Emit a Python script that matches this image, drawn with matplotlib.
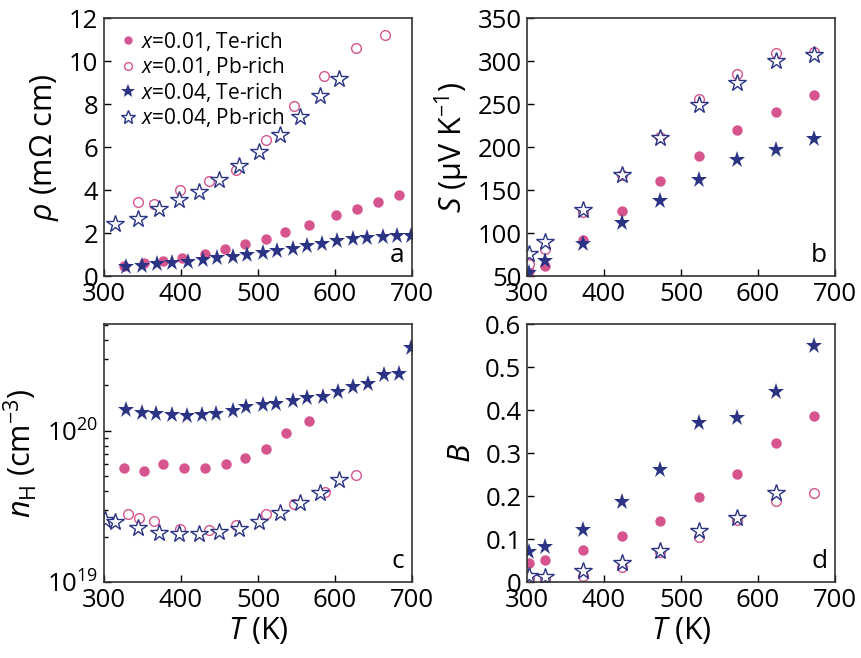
import numpy as np
import matplotlib
matplotlib.use('Agg')
import matplotlib.pyplot as plt
from matplotlib.ticker import LogLocator, NullFormatter

plt.rcParams['font.family'] = ['Open Sans', 'DejaVu Sans']
plt.rcParams['mathtext.fontset'] = 'custom'
plt.rcParams['mathtext.rm'] = 'Open Sans'
plt.rcParams['mathtext.it'] = 'Open Sans:italic'
plt.rcParams['mathtext.default'] = 'regular'

pink = '#d6558f'
navy = '#2b3385'

labels = ['$\\it{x}$=0.01, Te-rich', '$\\it{x}$=0.01, Pb-rich',
          '$\\it{x}$=0.04, Te-rich', '$\\it{x}$=0.04, Pb-rich']

# panel a: resistivity
T_a1 = [326, 352, 377, 402, 431, 457, 483, 510, 535, 566, 602, 628, 656, 683]
rho_a1 = [0.47, 0.59, 0.70, 0.85, 1.01, 1.24, 1.49, 1.74, 2.03, 2.38, 2.83, 3.14, 3.46, 3.77]
T_a2 = [344, 365, 399, 436, 472, 510, 547, 586, 627, 665]
rho_a2 = [3.45, 3.35, 3.99, 4.44, 4.94, 6.34, 7.89, 9.32, 10.6, 11.2]
T_a3 = [328, 350, 369, 389, 409, 428, 447, 467, 486, 506, 525, 545, 564, 583, 603, 623, 642, 662, 680, 699]
rho_a3 = [0.42, 0.48, 0.54, 0.61, 0.67, 0.75, 0.82, 0.89, 0.96, 1.06, 1.16, 1.27, 1.38, 1.49,
          1.61, 1.71, 1.77, 1.80, 1.86, 1.86]
T_a4 = [314, 344, 371, 398, 423, 449, 476, 502, 529, 555, 580, 605]
rho_a4 = [2.44, 2.67, 3.11, 3.54, 3.91, 4.47, 5.14, 5.78, 6.55, 7.42, 8.39, 9.18]

# panels b and d share temperatures
T_bd = [302, 323, 373, 423, 473, 523, 573, 623, 673]
S_1 = [56, 62, 92, 126, 160, 190, 220, 241, 261]
S_2 = [64, 82, 125, 167, 212, 256, 285, 309, 311]
S_3 = [54, 67, 87, 112, 137, 162, 185, 197, 209]
S_4 = [76, 89, 127, 168, 211, 249, 275, 300, 307]

B_1 = [0.044, 0.052, 0.074, 0.108, 0.143, 0.198, 0.252, 0.323, 0.385]
B_2 = [0.009, 0.007, 0.015, 0.034, 0.069, 0.105, 0.145, 0.188, 0.207]
B_3 = [0.070, 0.081, 0.122, 0.187, 0.260, 0.370, 0.381, 0.443, 0.550]
B_4 = [0.013, 0.012, 0.025, 0.044, 0.071, 0.118, 0.149, 0.207]

# panel c: Hall carrier concentration
T_c1 = [326, 352, 377, 404, 431, 458, 483, 510, 536, 566]
n_c1 = [5.65e19, 5.45e19, 6.01e19, 5.68e19, 5.65e19, 6.07e19, 6.66e19, 7.55e19, 9.66e19, 1.17e20]
T_c2 = [331, 345, 365, 399, 436, 472, 510, 547, 587, 627]
n_c2 = [2.83e19, 2.66e19, 2.54e19, 2.25e19, 2.22e19, 2.37e19, 2.81e19, 3.28e19, 3.94e19, 5.11e19]
T_c3 = [329, 349, 368, 388, 408, 427, 446, 467, 485, 506, 524, 545, 564, 584, 604, 623, 643, 664, 683, 699]
n_c3 = [1.38e20, 1.32e20, 1.29e20, 1.28e20, 1.26e20, 1.27e20, 1.30e20, 1.36e20, 1.44e20, 1.49e20,
        1.50e20, 1.57e20, 1.66e20, 1.69e20, 1.81e20, 1.95e20, 2.05e20, 2.34e20, 2.38e20, 3.54e20]
T_c4 = [301, 314, 344, 372, 398, 423, 450, 476, 502, 528, 554, 580, 605]
n_c4 = [2.56e19, 2.48e19, 2.28e19, 2.12e19, 2.09e19, 2.09e19, 2.15e19, 2.26e19, 2.51e19, 2.88e19,
        3.31e19, 3.86e19, 4.77e19]


def draw_sets(ax, sets):
    styles = [dict(marker='o', ms=7.5, mfc=pink, mec=pink, mew=0),
              dict(marker='o', ms=7, mfc='white', mec=pink, mew=1.0),
              dict(marker='*', ms=12.5, mfc=navy, mec=navy, mew=0),
              dict(marker='*', ms=13, mfc='white', mec=navy, mew=1.0)]
    for (x, y), st, lab in zip(sets, styles, labels):
        ax.plot(x, y, ls='none', label=lab, **st)


def style_ax(ax, letter):
    ax.set_xlim(300, 700)
    ax.set_xticks([300, 400, 500, 600, 700])
    ax.tick_params(direction='in', length=5, width=1, labelsize=18.5, pad=4,
                   top=False, right=False)
    ax.tick_params(which='minor', direction='in', length=3, width=1)
    for s in ax.spines.values():
        s.set_linewidth(1.2)
        s.set_color('#333333')
    ax.text(0.975, 0.03, letter, transform=ax.transAxes, ha='right', va='bottom', fontsize=19)


fig = plt.figure(figsize=(8.62, 6.58), dpi=100)
w, h = 0.3573, 0.392
ax_a = fig.add_axes([0.1206, 0.5805, w, h])
ax_b = fig.add_axes([0.6114, 0.5805, w, h])
ax_c = fig.add_axes([0.1206, 0.1155, w, h])
ax_d = fig.add_axes([0.6114, 0.1155, w, h])

draw_sets(ax_a, [(T_a1, rho_a1), (T_a2, rho_a2), (T_a3, rho_a3), (T_a4, rho_a4)])
ax_a.set_ylim(0, 12)
ax_a.set_yticks([0, 2, 4, 6, 8, 10, 12])
ax_a.set_ylabel('$\\it{\\rho}$ (m\u03a9 cm)', fontsize=22, labelpad=6)
style_ax(ax_a, 'a')
leg = ax_a.legend(loc='upper left', frameon=False, fontsize=15, handletextpad=0.05,
                  labelspacing=0.12, borderaxespad=0.15, handlelength=1.2,
                  markerscale=0.8)

draw_sets(ax_b, [(T_bd, S_1), (T_bd, S_2), (T_bd, S_3), (T_bd[:len(S_4)], S_4)])
ax_b.set_ylim(50, 350)
ax_b.set_yticks([50, 100, 150, 200, 250, 300, 350])
ax_b.set_ylabel('$\\it{S}$ (\u03bcV K$^{\u22121}$)', fontsize=22, labelpad=4)
style_ax(ax_b, 'b')

draw_sets(ax_c, [(T_c1, n_c1), (T_c2, n_c2), (T_c3, n_c3), (T_c4, n_c4)])
ax_c.set_yscale('log')
ax_c.set_ylim(1e19, 5.1e20)
ax_c.yaxis.set_major_locator(LogLocator(base=10, numticks=5))
ax_c.yaxis.set_minor_locator(LogLocator(base=10, subs=np.arange(2, 10), numticks=10))
ax_c.yaxis.set_minor_formatter(NullFormatter())
ax_c.set_ylabel('$\\it{n}_{\\mathrm{H}}$ (cm$^{\u22123}$)', fontsize=22, labelpad=6)
ax_c.set_xlabel('$\\it{T}$ (K)', fontsize=22, labelpad=2)
style_ax(ax_c, 'c')

draw_sets(ax_d, [(T_bd, B_1), (T_bd, B_2), (T_bd, B_3), (T_bd[:len(B_4)], B_4)])
ax_d.set_ylim(0, 0.6)
ax_d.set_yticks([0, 0.1, 0.2, 0.3, 0.4, 0.5, 0.6])
ax_d.set_yticklabels(['0', '0.1', '0.2', '0.3', '0.4', '0.5', '0.6'])
ax_d.set_ylabel('$\\it{B}$', fontsize=22, labelpad=6)
ax_d.set_xlabel('$\\it{T}$ (K)', fontsize=22, labelpad=2)
style_ax(ax_d, 'd')

fig.savefig('out.png', dpi=100)
